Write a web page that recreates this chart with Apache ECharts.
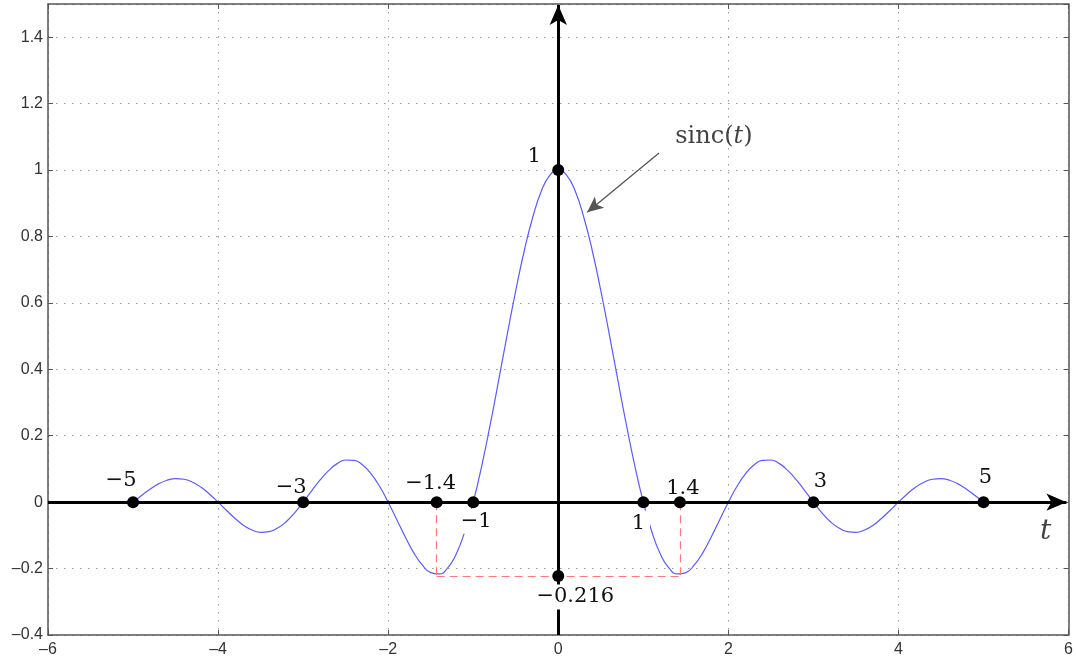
<!DOCTYPE html>
<html>
<head>
<meta charset="utf-8">
<script src="https://cdn.jsdelivr.net/npm/echarts@6/dist/echarts.min.js"></script>
<style>
  html, body { margin: 0; padding: 0; background: #fff; }
  #chart { width: 1076px; height: 661px; }
</style>
</head>
<body>
<div id="chart"></div>
<script>
// curve samples, t from -5 to 5 by 0.1
var tValues = [];
for (var k = -50; k <= 50; k++) tValues.push(k / 10);
var sincValues = [
  0, 0.020, 0.039, 0.055, 0.066, 0.071, 0.069, 0.060, 0.045, 0.024,
  0, -0.025, -0.049, -0.070, -0.084, -0.091, -0.089, -0.078, -0.059, -0.032,
  0, 0.034, 0.067, 0.095, 0.116, 0.127, 0.126, 0.112, 0.085, 0.047,
  0, -0.052, -0.104, -0.152, -0.189, -0.212, -0.216, -0.198, -0.156, -0.089,
  0, 0.109, 0.234, 0.368, 0.505, 0.637, 0.757, 0.858, 0.936, 0.984,
  1,
  0.984, 0.936, 0.858, 0.757, 0.637, 0.505, 0.368, 0.234, 0.109, 0,
  -0.089, -0.156, -0.198, -0.216, -0.212, -0.189, -0.152, -0.104, -0.052, 0,
  0.047, 0.085, 0.112, 0.126, 0.127, 0.116, 0.095, 0.067, 0.034, 0,
  -0.032, -0.059, -0.078, -0.089, -0.091, -0.084, -0.070, -0.049, -0.025, 0,
  0.024, 0.045, 0.060, 0.069, 0.071, 0.066, 0.055, 0.039, 0.020, 0
];

// marked points
var markerT = [-5, -3, -1.43, -1, 0, 1, 1.43, 3, 5, 0];
var markerY = [0, 0, 0, 0, 1, 0, 0, 0, 0, -0.222];
var markerText = ['−5', '−3', '−1.4', '−1', '1', '1', '1.4', '3', '5', '−0.216'];
var markerOffset = [[-12, -22], [-12, -15], [-6, -19], [3, 19], [-24, -14],
                    [-5, 21], [3, -14], [7, -21], [2, -25], [17, 21]];
var markerBg = [false, false, false, true, false, true, false, false, false, true];

// axis ticks
var xMin = -6, xMax = 6, xStep = 2;
var yMin = -0.4, yMax = 1.5, yStep = 0.2;

// annotation geometry (data coords)
var axisArrowX = [[-6, 0], [5.975, 0]];
var axisArrowY = [[0, -0.4], [0, 1.497]];
var minT = 1.43, minY = -0.222;
var pointerFrom = [1.185, 1.051], pointerTo = [0.34, 0.873];
var sincLabelPos = [1.83, 1.099];
var tLabelPos = [5.73, -0.09];

var chart = echarts.init(document.getElementById('chart'));

var curve = [];
for (var i = 0; i < tValues.length; i++) curve.push([tValues[i], sincValues[i]]);

var markers = [];
for (var j = 0; j < markerT.length; j++) {
  markers.push({
    value: [markerT[j], markerY[j]],
    label: {
      show: true,
      formatter: markerText[j],
      position: 'inside',
      offset: markerOffset[j],
      backgroundColor: markerBg[j] ? '#fff' : 'transparent',
      padding: markerBg[j] ? [2, 5] : 0
    }
  });
}

// tick labels use a long dash for the minus sign, like the original
function dashMinus(v) {
  return String(+v.toFixed(1)).replace('-', '–');
}

var frameLine = { show: true, onZero: false, lineStyle: { color: '#555', width: 1.5 } };
var tickIn = { show: true, inside: true, length: 5, lineStyle: { color: '#555' } };
var grid = { show: true, lineStyle: { color: '#999', width: 1, type: [1.5, 6.5] } };
var tickFont = { color: '#333', fontSize: 16, fontFamily: 'Liberation Sans, Arial, sans-serif', formatter: dashMinus };
var serif = 'DejaVu Serif, Liberation Serif, serif';

chart.setOption({
  animation: false,
  backgroundColor: '#fff',
  grid: { left: 48, right: 6, top: 4, bottom: 26 },
  xAxis: [
    {
      type: 'value', min: xMin, max: xMax, interval: xStep, position: 'bottom',
      axisLine: frameLine, axisTick: tickIn, splitLine: grid,
      axisLabel: Object.assign({ margin: 7 }, tickFont)
    },
    {
      type: 'value', min: xMin, max: xMax, interval: xStep, position: 'top',
      axisLine: frameLine, axisTick: tickIn, splitLine: { show: false },
      axisLabel: { show: false }
    }
  ],
  yAxis: [
    {
      type: 'value', min: yMin, max: yMax, interval: yStep, position: 'left',
      axisLine: frameLine, axisTick: tickIn, splitLine: grid,
      axisLabel: Object.assign({ margin: 5, showMaxLabel: false }, tickFont)
    },
    {
      type: 'value', min: yMin, max: yMax, interval: yStep, position: 'right',
      axisLine: frameLine, axisTick: tickIn, splitLine: { show: false },
      axisLabel: { show: false }
    }
  ],
  series: [
    {
      name: 'sinc',
      type: 'line',
      data: curve,
      showSymbol: false,
      smooth: 0.5,
      lineStyle: { color: '#5b5bff', width: 1.2 },
      z: 3,
      markLine: {
        silent: true,
        symbol: 'none',
        label: { show: false },
        lineStyle: { color: '#ff7a7a', width: 1.2, type: [8, 5] },
        data: [
          [{ coord: [-minT, 0] }, { coord: [-minT, minY] }],
          [{ coord: [-minT, minY] }, { coord: [minT, minY] }],
          [{ coord: [minT, 0] }, { coord: [minT, minY] }]
        ]
      }
    },
    {
      name: 'axes',
      type: 'line',
      data: [],
      z: 4,
      markLine: {
        silent: true,
        symbol: ['none', 'arrow'],
        symbolSize: [13, 20],
        label: { show: false },
        lineStyle: { color: '#000', width: 3, type: 'solid' },
        data: [
          [{ coord: axisArrowX[0] }, { coord: axisArrowX[1] }],
          [{ coord: axisArrowY[0] }, { coord: axisArrowY[1] }]
        ]
      }
    },
    {
      name: 'pointer',
      type: 'line',
      data: [],
      z: 4,
      markLine: {
        silent: true,
        symbol: ['none', 'arrow'],
        symbolSize: [11, 16],
        label: { show: false },
        lineStyle: { color: '#555', width: 1.3, type: 'solid' },
        data: [[{ coord: pointerFrom }, { coord: pointerTo }]]
      }
    },
    {
      name: 'points',
      type: 'scatter',
      data: markers,
      symbolSize: 12,
      itemStyle: { color: '#000', opacity: 1 },
      z: 10,
      label: { color: '#111', fontSize: 21, fontFamily: serif }
    },
    {
      name: 'labels',
      type: 'scatter',
      symbolSize: 0,
      z: 10,
      data: [
        {
          value: sincLabelPos,
          label: {
            show: true, position: 'inside', formatter: 'sinc({i|t})',
            color: '#111', fontSize: 24, fontFamily: serif,
            rich: { i: { fontStyle: 'italic', fontSize: 24, fontFamily: serif, color: '#111' } }
          }
        },
        {
          value: tLabelPos,
          label: {
            show: true, position: 'inside', formatter: 't',
            color: '#111', fontSize: 28, fontStyle: 'italic', fontFamily: serif
          }
        }
      ]
    }
  ]
});
</script>
</body>
</html>
